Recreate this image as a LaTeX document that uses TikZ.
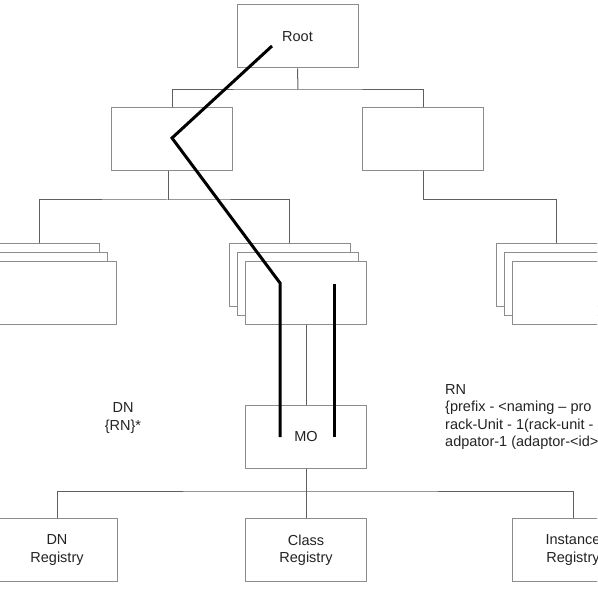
\documentclass[tikz,border=0pt]{standalone}
\usepackage{fontspec}
\setsansfont{Liberation Sans}
\definecolor{boxgray}{RGB}{140, 140, 140}
\definecolor{linkgray}{RGB}{95, 95, 95}
\definecolor{textgray}{RGB}{35, 35, 35}

\begin{document}
\begin{tikzpicture}[x=1pt, y=-1pt, font=\sffamily\fontsize{14.5}{17.5}\selectfont,
  mobox/.style={draw=boxgray, line width=1pt, fill=white, text=textgray, align=center,
    minimum width=121pt, minimum height=63pt, inner sep=0pt},
  link/.style={draw=linkgray, line width=1pt},
  route/.style={draw=black, line width=3pt, line join=miter},
  note/.style={text=textgray, align=center, inner sep=0pt}]
  \useasboundingbox (0,0) rectangle (597,601);
  \clip (0,0) rectangle (597,601);

  % Top levels
  \node[mobox] (root) at (297.5,36.5) {Root};
  \node[mobox] (lmid) at (172,139) {};
  \node[mobox] (rmid) at (423,139) {};

  % Stacked containers (back to front)
  \node[mobox] (lstackA) at (39,275) {};
  \node[mobox] (lstackB) at (47,284) {};
  \node[mobox] (lstackC) at (56,292.5) {};
  \node[mobox] (mstackA) at (289.5,275) {};
  \node[mobox] (mstackB) at (297.5,284) {};
  \node[mobox] (mstackC) at (306,292.5) {};
  \node[mobox] (rstackA) at (556.5,275) {};
  \node[mobox] (rstackB) at (564.5,284) {};
  \node[mobox] (rstackC) at (573,292.5) {};

  % Managed object and registries
  \node[mobox] (mo) at (306,436.5) {MO};
  \node[mobox] (dnreg) at (57,550) {DN\\Registry};
  \node[mobox] (classreg) at (306,550) {Class\\Registry};
  \node[mobox] (instreg) at (573,550) {Instance\\Registry};

  % Tree connectors
  \coordinate (rootbus) at (298,90);
  \coordinate (lbus) at (168,200);
  \coordinate (rbus) at (556.5,200);
  \coordinate (mobus) at (306,491);
  \draw[link] (root.south) -- (rootbus);
  \draw[link] (lmid.north) |- (rootbus) -| (rmid.north);
  \draw[link] ([xshift=-4pt]lmid.south) -- (lbus);
  \draw[link] (lstackA.north) |- (lbus) -| (mstackA.north);
  \draw[link] (rmid.south) |- (rbus) -- (rstackA.north);
  \draw[link] (mstackC.south) -- (mo.north);
  \draw[link] (mo.south) -- (mobus);
  \draw[link] (dnreg.north) |- (mobus) -| (instreg.north);
  \draw[link] (mobus) -- (classreg.north);

  % Naming path
  \coordinate (pathstart) at (272,46);
  \coordinate (pathbend) at (172,138);
  \coordinate (pathleft) at (280,283);
  \coordinate (pathlend) at (280,437);
  \coordinate (pathright) at (334,284);
  \coordinate (pathrend) at (334,437);
  \draw[route] (pathstart) -- (pathbend) -- (pathleft) -- (pathlend);
  \draw[route] (pathright) -- (pathrend);

  % Labels
  \node[note] (dnlabel) at (123,418) {DN\\\{RN\}*};
  \node[note, anchor=north west, align=left] (rnlabel) at (445,384)
    {RN\\\{prefix - <naming -- pro\\rack-Unit - 1(rack-unit -\\adpator-1 (adaptor-<id>};
\end{tikzpicture}
\end{document}
